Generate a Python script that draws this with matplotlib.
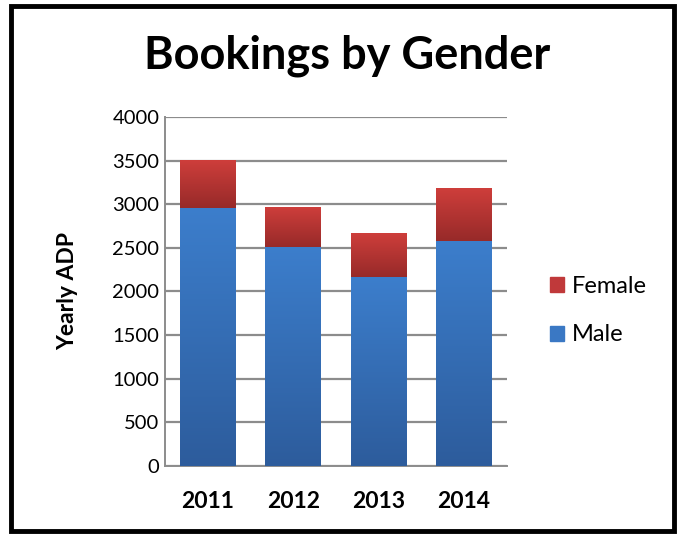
import numpy as np
import matplotlib.pyplot as plt
from matplotlib.colors import LinearSegmentedColormap
from matplotlib.patches import Rectangle

years = ['2011', '2012', '2013', '2014']
male = [2960, 2510, 2165, 2580]
female = [540, 450, 495, 605]
yticks = [0, 500, 1000, 1500, 2000, 2500, 3000, 3500, 4000]

plt.rcParams['font.family'] = ['Lato', 'DejaVu Sans']

fig = plt.figure(figsize=(6.82, 5.34), dpi=100)
ax = fig.add_axes([0.242, 0.1273, 0.501, 0.6537])

x = np.arange(len(years))
w = 0.655
blue_cm = LinearSegmentedColormap.from_list('b', ['#2D5C9C', '#3C7ECC'])
red_cm = LinearSegmentedColormap.from_list('r', ['#972A29', '#CE3E3B'])

grad = np.linspace(0, 1, 256).reshape(-1, 1)
bars_m = ax.bar(x, male, w, color='#3A78C4', zorder=2)
bars_f = ax.bar(x, female, w, bottom=male, color='#C0393A', zorder=2)

# gradient fill inside each bar segment
for bars, cm in ((bars_m, blue_cm), (bars_f, red_cm)):
    for b in bars:
        x0, y0 = b.get_x(), b.get_y()
        bw, bh = b.get_width(), b.get_height()
        ax.imshow(grad, cmap=cm, origin='lower', aspect='auto',
                  extent=(x0, x0 + bw, y0, y0 + bh), zorder=3)

ax.set_xlim(-0.5, 3.5)
ax.set_ylim(0, 4000)
ax.set_yticks(yticks)
ax.set_xticks(x)
ax.set_xticklabels(years, fontsize=16.5, fontweight='bold')
ax.tick_params(axis='y', labelsize=14.5, length=0, pad=4)
ax.tick_params(axis='x', length=0, pad=18)
ax.yaxis.grid(True, color='#8C8C8C', linewidth=1.6, zorder=0)
ax.set_axisbelow(True)
for s in ('top', 'right'):
    ax.spines[s].set_visible(False)
for s in ('left', 'bottom'):
    ax.spines[s].set_color('#8C8C8C')
    ax.spines[s].set_linewidth(1.4)
ax.set_ylabel('Yearly ADP', fontsize=16.5, fontweight='bold', labelpad=25)

fig.text(0.509, 0.895, 'Bookings by Gender', fontsize=32.5, fontweight='bold',
         ha='center', va='center')

# legend
h_f = Rectangle((0, 0), 1, 1, color='#C0393A')
h_m = Rectangle((0, 0), 1, 1, color='#3A78C4')
fig.legend([h_f, h_m], ['Female', 'Male'], loc='center left',
           bbox_to_anchor=(0.775, 0.418), frameon=False, fontsize=17,
           handlelength=0.6, handleheight=0.6, handletextpad=0.35,
           labelspacing=1.15)

# outer frame
fig.patches.append(Rectangle((0.0155, 0.0065), 0.9735, 0.983, transform=fig.transFigure,
                             fill=False, edgecolor='black', linewidth=3.5))

fig.savefig('out.png', dpi=100)
